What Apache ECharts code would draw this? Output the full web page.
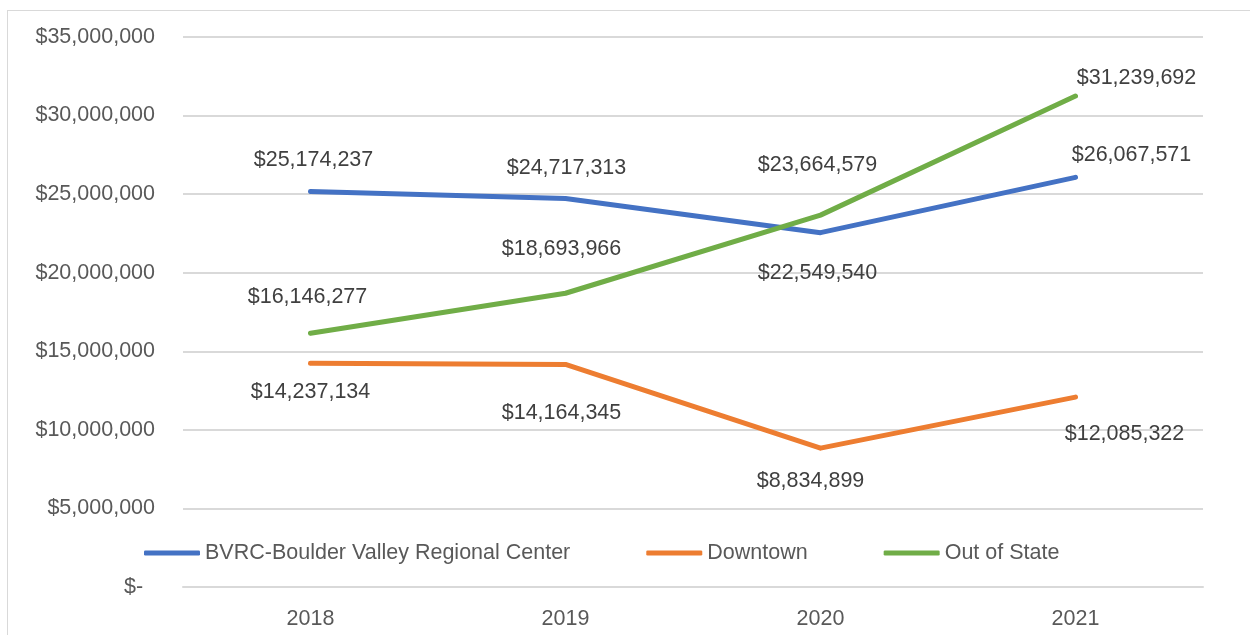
<!DOCTYPE html>
<html>
<head>
<meta charset="utf-8">
<script src="https://cdn.jsdelivr.net/npm/echarts@6/dist/echarts.min.js"></script>
<style>
  html, body { margin:0; padding:0; background:#fff; overflow:hidden; }
  #frame { position:absolute; left:7px; top:10px; width:1400px; height:800px; border:1px solid #d9d9d9; box-sizing:border-box; }
  #chart { position:absolute; left:0; top:0; width:1250px; height:635px; }
</style>
</head>
<body>
<div id="frame"></div>
<div id="chart"></div>
<script>
const years = ['2018', '2019', '2020', '2021'];
const bvrc = [25174237, 24717313, 22549540, 26067571];
const downtown = [14237134, 14164345, 8834899, 12085322];
const outOfState = [16146277, 18693966, 23664579, 31239692];
const seriesNames = ['BVRC-Boulder Valley Regional Center', 'Downtown', 'Out of State'];
const yTicks = [0, 5000000, 10000000, 15000000, 20000000, 25000000, 30000000, 35000000];

// label placement (style, pixel offsets from each point)
const bvrcOffsets = [[3, -31], [1, -31], [-3, 40], [56, -22]];
const downtownOffsets = [[0, 29], [-4, 49], [-10, 33], [49, 37]];
const outOffsets = [[-3, -36], [-4, -44], [-3, -50], [61, -18]];

const FONT = '"Liberation Sans", Arial, sans-serif';
const fmt = v => '$' + Math.round(v).toLocaleString('en-US');

function build(name, values, offsets, color) {
  return {
    name: name,
    type: 'line',
    data: values.map((v, i) => ({
      value: v,
      label: { offset: offsets[i] }
    })),
    symbol: 'circle',
    symbolSize: 4,
    showSymbol: true,
    itemStyle: { color: color },
    lineStyle: { color: color, width: 5, cap: 'round', join: 'round' },
    emphasis: { disabled: true },
    label: {
      show: true,
      position: 'inside',
      formatter: p => fmt(p.value),
      fontFamily: FONT,
      fontSize: 21.5,
      color: '#404040'
    },
    z: 3
  };
}

const chart = echarts.init(document.getElementById('chart'), null, { renderer: 'canvas' });
chart.setOption({
  animation: false,
  backgroundColor: 'transparent',
  grid: { left: 183, right: 47, top: 37, bottom: 48, containLabel: false },
  legend: {
    data: seriesNames.map(n => ({ name: n, icon: 'roundRect' })),
    left: 144,
    top: 542,
    padding: 0,
    itemWidth: 56,
    itemHeight: 5,
    itemGap: 76,
    textStyle: { fontFamily: FONT, fontSize: 21.5, color: '#595959' }
  },
  xAxis: {
    type: 'category',
    data: years,
    boundaryGap: true,
    axisLine: { show: true, lineStyle: { color: '#d9d9d9', width: 2 } },
    axisTick: { show: false },
    axisLabel: { fontFamily: FONT, fontSize: 21.5, color: '#595959', margin: 21 }
  },
  yAxis: {
    type: 'value',
    min: yTicks[0],
    max: yTicks[yTicks.length - 1],
    interval: yTicks[1] - yTicks[0],
    axisLine: { show: false },
    axisTick: { show: false },
    splitLine: { lineStyle: { color: '#d9d9d9', width: 2 } },
    axisLabel: {
      fontFamily: FONT, fontSize: 21.5, color: '#595959', margin: 28,
      formatter: v => v === 0 ? '$-  ' : fmt(v)
    }
  },
  series: [
    build(seriesNames[0], bvrc, bvrcOffsets, '#4472C4'),
    build(seriesNames[1], downtown, downtownOffsets, '#ED7D31'),
    build(seriesNames[2], outOfState, outOffsets, '#70AD47')
  ]
});
</script>
</body>
</html>
